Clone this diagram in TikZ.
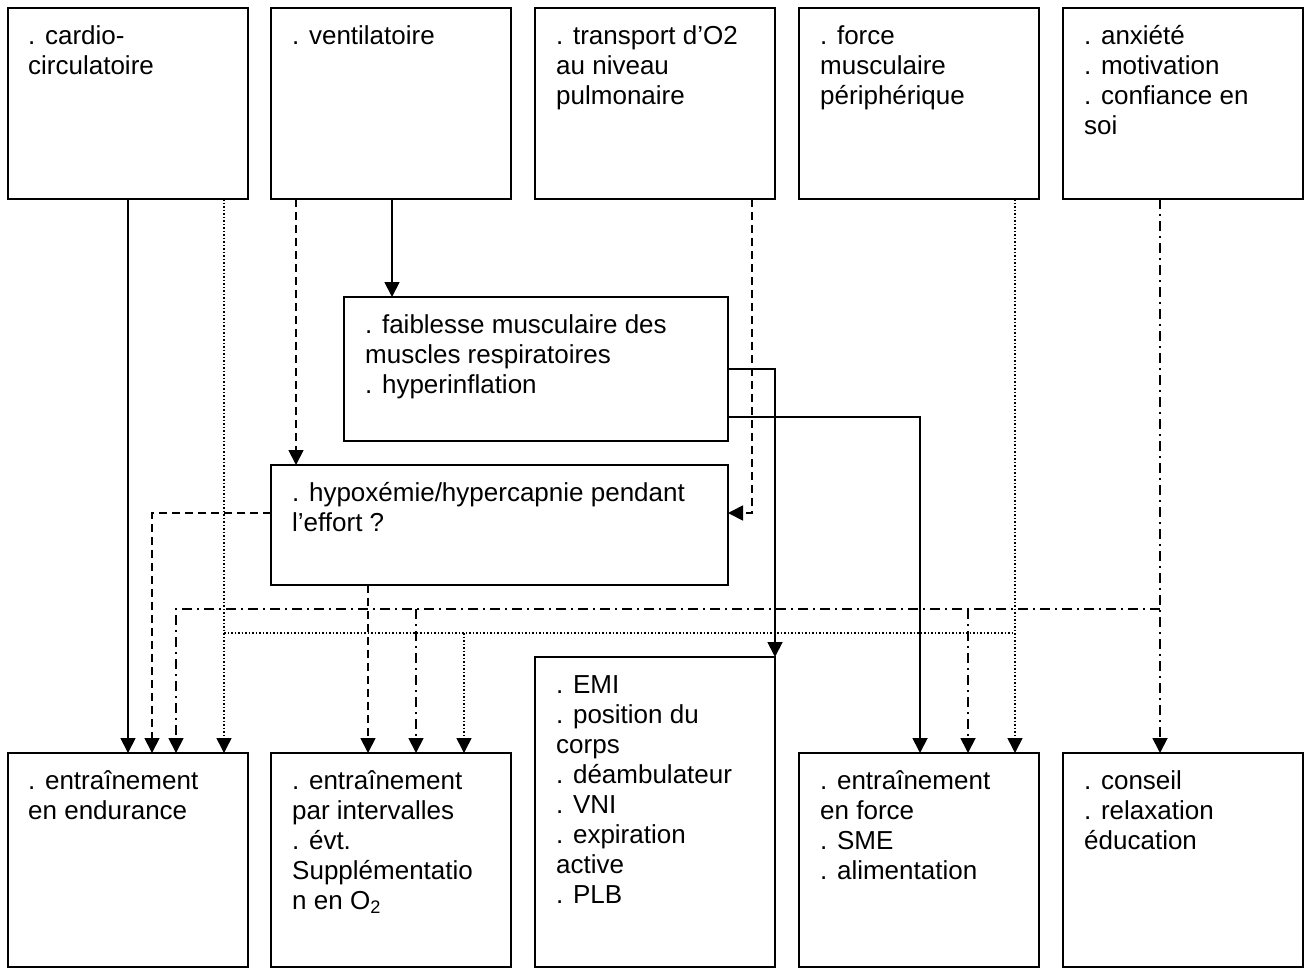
\documentclass[tikz,border=0pt]{standalone}
\usepackage{fontspec}
\setmainfont{Liberation Sans}
\usetikzlibrary{arrows.meta,calc}
\newcommand{\firstln}{\rule{0pt}{36pt}}
\begin{document}
\begin{tikzpicture}[x=1pt,y=-1pt,
  box/.style={draw, line width=1.8pt, inner sep=0pt, outer sep=0pt, anchor=north west},
  lbl/.style={anchor=north west, inner sep=0pt, align=left, font=\fontsize{26}{30}\selectfont},
  conn/.style={line width=1.8pt, -{Triangle[width=15pt,length=15pt]}},
  sol/.style={conn},
  dsh/.style={conn, dash pattern=on 8pt off 5pt},
  dtt/.style={conn, line width=1.5pt, dash pattern=on 1.5pt off 2pt},
  ddt/.style={conn, dash pattern=on 10pt off 5pt on 2pt off 5pt}]
\useasboundingbox (0,0) rectangle (1311,969);
% top row
\node[box, minimum width=240pt, minimum height=191pt] (t1) at (8,8) {};
\node[box, minimum width=240pt, minimum height=191pt] (t2) at (271,8) {};
\node[box, minimum width=240pt, minimum height=191pt] (t3) at (535,8) {};
\node[box, minimum width=240pt, minimum height=191pt] (t4) at (799,8) {};
\node[box, minimum width=240pt, minimum height=191pt] (t5) at (1063,8) {};
% middle
\node[box, minimum width=384pt, minimum height=144pt] (fa) at (344,297) {};
\node[box, minimum width=457pt, minimum height=120pt] (hy) at (271,465) {};
% bottom row
\node[box, minimum width=240pt, minimum height=214pt] (b1) at (8,753) {};
\node[box, minimum width=240pt, minimum height=214pt] (b2) at (271,753) {};
\node[box, minimum width=240pt, minimum height=310pt] (b3) at (535,657) {};
\node[box, minimum width=240pt, minimum height=214pt] (b4) at (799,753) {};
\node[box, minimum width=240pt, minimum height=214pt] (b5) at (1063,753) {};
% labels
\node[lbl] (t1l) at ($(t1.north west)+(20,0)$) {\firstln. cardio-\\circulatoire};
\node[lbl] (t2l) at ($(t2.north west)+(21,0)$) {\firstln. ventilatoire};
\node[lbl] (t3l) at ($(t3.north west)+(21,0)$) {\firstln. transport d’O2\\au niveau\\pulmonaire};
\node[lbl] (t4l) at ($(t4.north west)+(21,0)$) {\firstln. force\\musculaire\\périphérique};
\node[lbl] (t5l) at ($(t5.north west)+(21,0)$) {\firstln. anxiété\\. motivation\\. confiance en\\soi};
\node[lbl] (fal) at ($(fa.north west)+(21,0)$) {\firstln. faiblesse musculaire des\\muscles respiratoires\\. hyperinflation};
\node[lbl] (hyl) at ($(hy.north west)+(21,0)$) {\firstln. hypoxémie/hypercapnie pendant\\l’effort ?};
\node[lbl] (b1l) at ($(b1.north west)+(20,0)$) {\firstln. entraînement\\en endurance};
\node[lbl] (b2l) at ($(b2.north west)+(21,0)$) {\firstln. entraînement\\par intervalles\\. évt.\\Supplémentatio\\n en O\textsubscript{2}};
\node[lbl] (b3l) at ($(b3.north west)+(21,0)$) {\firstln. EMI\\. position du\\corps\\. déambulateur\\. VNI\\. expiration\\active\\. PLB};
\node[lbl] (b4l) at ($(b4.north west)+(21,0)$) {\firstln. entraînement\\en force\\. SME\\. alimentation};
\node[lbl] (b5l) at ($(b5.north west)+(21,0)$) {\firstln. conseil\\. relaxation\\éducation};
% helper coordinates
\coordinate (x128) at (128,0);
\coordinate (x152) at (152,0);
\coordinate (x176) at (176,0);
\coordinate (x224) at (224,0);
\coordinate (x296) at (296,0);
\coordinate (x368) at (368,0);
\coordinate (x392) at (392,0);
\coordinate (x416) at (416,0);
\coordinate (x464) at (464,0);
\coordinate (x752) at (752,0);
\coordinate (x920) at (920,0);
\coordinate (x968) at (968,0);
\coordinate (x1015) at (1015,0);
\coordinate (x1160) at (1160,0);
\coordinate (y369) at (0,369);
\coordinate (y417) at (0,417);
\coordinate (y513) at (0,513);
\coordinate (y609) at (0,609);
\coordinate (y633) at (0,633);
% solid
\draw[sol] (t1.south -| x128) -- (b1.north -| x128);
\draw[sol] (t2.south -| x392) -- (fa.north -| x392);
\draw[sol] (fa.east |- y369) -| (b3.north east);
\draw[sol] (fa.east |- y417) -| (b4.north -| x920);
% dashed
\draw[dsh] (t2.south -| x296) -- (hy.north -| x296);
\draw[dsh] (t3.south -| x752) |- (hy.east |- y513);
\draw[dsh] (hy.west |- y513) -| (b1.north -| x152);
\draw[dsh] (hy.south -| x368) -- (b2.north -| x368);
% dotted
\draw[dtt] (t1.south -| x224) -- (b1.north -| x224);
\draw[dtt] (t4.south -| x1015) -- (b4.north -| x1015);
\draw[dtt, -] (x224 |- y633) -- (x1015 |- y633);
\draw[dtt] (x464 |- y633) -- (b2.north -| x464);
% dash-dot
\draw[ddt] (t5.south -| x1160) -- (b5.north -| x1160);
\draw[ddt] (x1160 |- y609) -- (x176 |- y609) -- (b1.north -| x176);
\draw[ddt] (x416 |- y609) -- (b2.north -| x416);
\draw[ddt] (x968 |- y609) -- (b4.north -| x968);
\end{tikzpicture}
\end{document}
